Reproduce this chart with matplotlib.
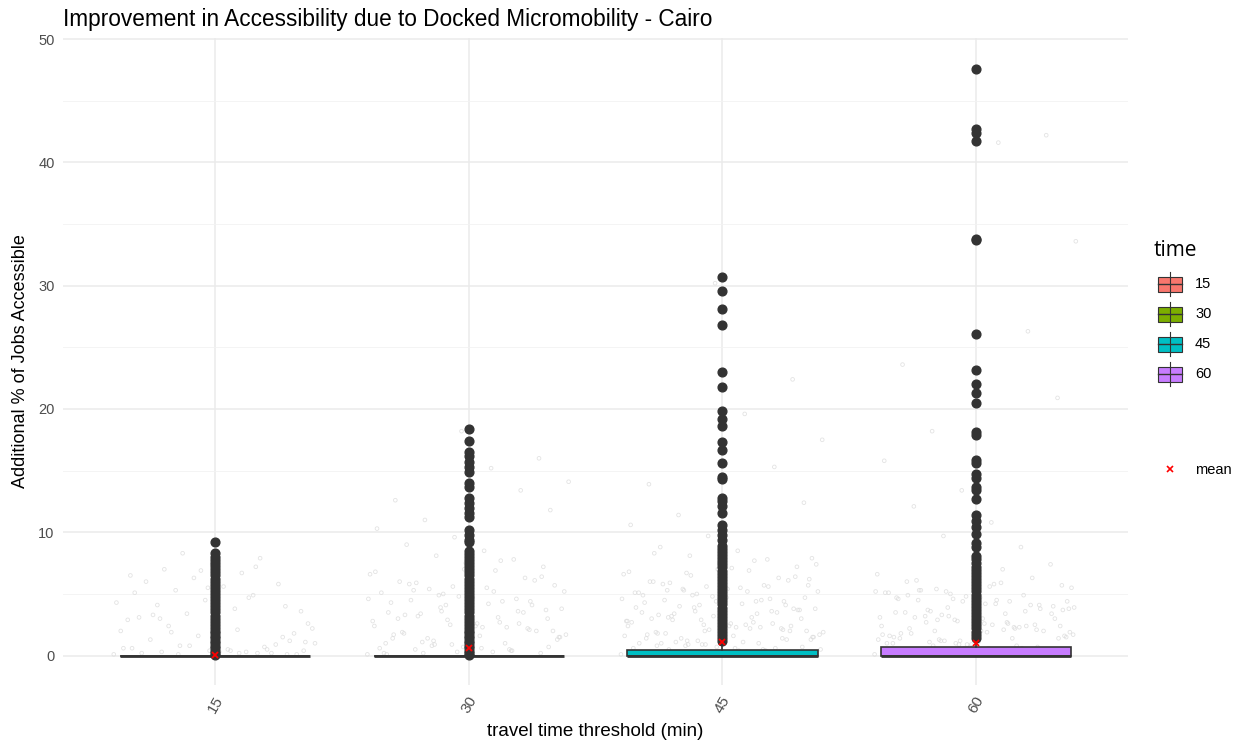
import numpy as np
import matplotlib.pyplot as plt
from matplotlib.patches import Rectangle
from matplotlib.lines import Line2D

plt.rcParams['font.family'] = ['Liberation Sans', 'DejaVu Sans']

times = ['15', '30', '45', '60']
colors = ['#F8766D', '#7CAE00', '#00BFC4', '#C77CFF']

# box statistics
q1 = [0.0, 0.0, 0.0, 0.0]
med = [0.0, 0.0, 0.0, 0.0]
q3 = [0.0, 0.0, 0.42, 0.68]
whis_hi = [0.0, 0.0, 1.0, 1.35]
means = [0.05, 0.65, 1.1, 1.0]

# outliers (dark points)
out15 = [0.05, 0.2, 0.4, 0.6, 0.8, 1.0, 1.2, 1.4, 1.6, 1.8, 2.0, 2.25, 2.5, 2.75, 3.0,
         3.25, 3.5, 3.75, 4.0, 4.25, 4.5, 4.75, 5.0, 5.25, 5.5, 5.75, 6.0, 6.25, 6.5,
         6.75, 7.0, 7.25, 7.5, 7.75, 8.0, 8.3, 9.2]
out30 = [0.05, 0.2, 0.4, 0.6, 0.8, 1.0, 1.2, 1.4, 1.6, 1.8, 2.0, 2.25, 2.5, 2.75, 3.0,
         3.25, 3.5, 3.75, 4.0, 4.25, 4.5, 4.75, 5.0, 5.25, 5.5, 5.75, 6.0, 6.25, 6.5,
         6.75, 7.0, 7.25, 7.5, 7.75, 8.0, 8.25, 8.5, 9.2, 9.4, 9.8, 10.2, 11.2, 11.6,
         12.0, 12.4, 12.8, 13.7, 14.0, 14.9, 15.3, 15.7, 16.2, 16.5, 17.4, 18.4]
out45 = [1.15, 1.4, 1.65, 1.9, 2.15, 2.4, 2.65, 2.9, 3.15, 3.4, 3.65, 3.9, 4.15, 4.4,
         4.65, 4.9, 5.15, 5.4, 5.65, 5.9, 6.15, 6.4, 6.65, 6.9, 7.15, 7.4, 7.65, 7.9,
         8.15, 8.4, 8.65, 8.9, 9.4, 9.8, 10.2, 10.6, 11.6, 12.1, 12.5, 12.8, 14.3, 14.5,
         15.6, 16.7, 17.3, 18.6, 19.2, 19.8, 21.8, 23.0, 26.8, 28.1, 29.6, 30.7]
out60 = [1.45, 1.7, 1.95, 2.2, 2.45, 2.7, 2.95, 3.2, 3.45, 3.7, 3.95, 4.2, 4.45, 4.7,
         4.95, 5.2, 5.45, 5.7, 5.95, 6.2, 6.45, 6.7, 6.95, 7.2, 7.5, 7.8, 8.1, 8.8, 9.1,
         9.9, 10.4, 10.9, 11.4, 12.7, 13.4, 13.7, 14.4, 14.7, 15.6, 15.9, 17.9, 18.1,
         20.5, 21.3, 22.0, 23.2, 26.1, 33.7, 33.8, 41.7, 42.4, 42.7, 47.6]
outliers = [out15, out30, out45, out60]

# faint jittered observations
jit15 = [0.1, 0.2, 0.3, 0.1, 0.4, 0.6, 0.2, 0.8, 1.1, 0.5, 1.3, 0.9, 1.6, 2.0, 0.3, 2.4,
         1.8, 2.7, 3.1, 0.7, 3.4, 2.2, 3.8, 4.1, 1.5, 4.5, 2.9, 4.9, 5.3, 3.6, 5.6, 6.0,
         0.2, 6.3, 4.3, 6.7, 7.0, 1.2, 7.4, 5.1, 7.9, 8.3, 2.6, 0.4, 3.3, 5.8, 6.9, 0.6,
         4.7, 1.9, 0.1, 0.3, 0.2, 0.5, 0.8, 1.0, 2.1, 3.0, 4.0, 5.5, 6.5, 7.2, 0.1, 0.4]
jit30 = [0.1, 0.3, 0.5, 0.2, 0.7, 1.0, 0.4, 1.2, 1.5, 0.6, 1.8, 2.1, 0.9, 2.4, 2.7, 1.1,
         3.0, 3.3, 1.4, 3.6, 3.9, 1.7, 4.2, 4.5, 2.0, 4.8, 5.1, 2.3, 5.4, 5.7, 2.6, 6.0,
         6.3, 2.9, 6.6, 6.9, 3.2, 7.2, 7.5, 3.5, 7.8, 8.1, 3.8, 8.5, 9.0, 4.1, 9.6, 10.3,
         4.4, 11.0, 11.8, 4.7, 12.6, 13.4, 5.0, 14.1, 15.2, 5.3, 16.0, 18.2, 0.2, 0.5,
         0.8, 1.3, 1.6, 1.9, 2.2, 2.5, 2.8, 3.1, 3.4, 3.7, 4.0, 4.3, 4.6, 4.9, 5.2, 5.5,
         5.8, 6.1, 0.3, 0.6, 1.0, 1.4, 2.0, 2.4, 3.0, 3.5, 4.1, 4.6, 5.2, 5.9, 6.4, 7.0,
         0.1, 0.4, 0.9, 1.5, 2.3, 3.3, 4.4, 5.6, 6.8, 7.7, 0.2, 0.7, 1.2, 1.7, 2.6, 3.6]
jit45 = [0.1, 0.3, 0.5, 0.2, 0.7, 1.0, 0.4, 1.2, 1.5, 0.6, 1.8, 2.1, 0.9, 2.4, 2.7, 1.1,
         3.0, 3.3, 1.4, 3.6, 3.9, 1.7, 4.2, 4.5, 2.0, 4.8, 5.1, 2.3, 5.4, 5.7, 2.6, 6.0,
         6.3, 2.9, 6.6, 6.9, 3.2, 7.2, 7.5, 3.5, 7.8, 8.1, 3.8, 8.5, 8.8, 4.1, 9.7, 10.6,
         4.4, 11.4, 12.4, 4.7, 13.9, 15.3, 5.0, 17.5, 19.6, 5.3, 22.4, 30.2, 0.2, 0.5,
         0.8, 1.3, 1.6, 1.9, 2.2, 2.5, 2.8, 3.1, 3.4, 3.7, 4.0, 4.3, 4.6, 4.9, 5.2, 5.5,
         5.8, 6.1, 0.3, 0.6, 1.0, 1.4, 2.0, 2.4, 3.0, 3.5, 4.1, 4.6, 5.2, 5.9, 6.4, 7.0,
         0.1, 0.4, 0.9, 1.5, 2.3, 3.3, 4.4, 5.6, 6.8, 7.7, 0.2, 0.7, 1.2, 1.7, 2.6, 3.6,
         0.5, 1.1, 1.8, 2.4, 3.2, 3.9, 4.5, 5.3, 6.2, 7.1, 8.3, 0.3, 0.9, 1.6, 2.2, 2.9,
         3.7, 4.2, 4.9, 5.6, 6.5, 7.4, 0.4, 1.0, 1.3, 2.1, 2.7, 3.4, 4.0, 4.7, 5.4, 6.0,
         0.6, 1.2, 1.9, 2.5, 3.1, 3.8, 4.4, 5.1, 5.7, 6.7, 7.9, 0.2, 0.8, 1.4, 2.0, 2.8]
jit60 = [0.1, 0.3, 0.5, 0.2, 0.7, 1.0, 0.4, 1.2, 1.5, 0.6, 1.8, 2.1, 0.9, 2.4, 2.7, 1.1,
         3.0, 3.3, 1.4, 3.6, 3.9, 1.7, 4.2, 4.5, 2.0, 4.8, 5.1, 2.3, 5.4, 5.7, 2.6, 6.0,
         6.3, 2.9, 6.6, 7.0, 3.2, 7.4, 8.0, 3.5, 8.8, 9.7, 3.8, 10.8, 12.1, 4.1, 13.4,
         15.8, 4.4, 18.2, 20.9, 4.7, 23.6, 26.3, 5.0, 33.6, 41.6, 5.3, 42.2, 0.2, 0.5,
         0.8, 1.3, 1.6, 1.9, 2.2, 2.5, 2.8, 3.1, 3.4, 3.7, 4.0, 4.3, 4.6, 4.9, 5.2, 5.5,
         5.8, 6.1, 0.3, 0.6, 1.0, 1.4, 2.0, 2.4, 3.0, 3.5, 4.1, 4.6, 5.2, 5.9, 0.1, 0.4,
         0.9, 1.5, 2.3, 3.3, 4.4, 5.6, 0.2, 0.7, 1.2, 1.7, 2.6, 3.6, 0.5, 1.1, 1.8, 2.4,
         3.2, 3.9, 4.5, 5.3, 0.3, 0.9, 1.6, 2.2, 2.9, 3.7, 4.2, 4.9, 0.4, 1.0, 1.3, 2.1,
         2.7, 3.4, 4.0, 4.7, 0.6, 1.2, 1.9, 2.5, 3.1, 3.8, 4.4, 5.1, 0.2, 0.8, 1.4, 2.0]
jitter = [jit15, jit30, jit45, jit60]

pos = np.arange(1, 5)

fig = plt.figure(figsize=(12.41, 7.40), dpi=100)
ax = fig.add_axes([0.0508, 0.0743, 0.8583, 0.8743])

# jitter layer (deterministic horizontal spread)
for i, vals in enumerate(jitter):
    n = len(vals)
    off = ((np.arange(n) * 0.6180339) % 1.0 - 0.5) * 0.8
    ax.scatter(pos[i] + off, vals, s=7, facecolor='none', edgecolor='#dcdcdc',
               linewidth=0.6, alpha=0.8, zorder=2)

stats = []
for i in range(4):
    stats.append(dict(med=med[i], q1=q1[i], q3=q3[i], whislo=q1[i],
                      whishi=whis_hi[i], mean=means[i], fliers=outliers[i]))

bp = ax.bxp(stats, positions=pos, widths=0.75, patch_artist=True, showmeans=True,
            showcaps=False, manage_ticks=False,
            boxprops=dict(edgecolor='#333333', linewidth=1.2),
            medianprops=dict(color='#333333', linewidth=2.0),
            whiskerprops=dict(color='#333333', linewidth=1.2),
            flierprops=dict(marker='o', markerfacecolor='#333333',
                            markeredgecolor='#333333', markersize=6.3),
            meanprops=dict(marker='x', markeredgecolor='red', markersize=5,
                           markeredgewidth=1.3))
for patch, c in zip(bp['boxes'], colors):
    patch.set_facecolor(c)
for k in ['boxes', 'medians', 'whiskers', 'fliers']:
    for a in bp[k]:
        a.set_zorder(3)
for a in bp['means']:
    a.set_zorder(5)

ax.set_xlim(0.4, 4.6)
ax.set_ylim(-2.385, 50.08)
ax.set_xticks(pos)
ax.set_xticklabels(times, rotation=60, color='#4D4D4D', fontsize=11)
ax.set_yticks([0, 10, 20, 30, 40, 50])
ax.set_yticks([5, 15, 25, 35, 45], minor=True)
ax.tick_params(axis='y', labelcolor='#4D4D4D', labelsize=10.5, pad=6)
ax.tick_params(axis='x', pad=6)
ax.tick_params(length=0, which='both')
ax.grid(True, which='major', color='#EBEBEB', linewidth=1.1)
ax.grid(True, which='minor', axis='y', color='#F2F2F2', linewidth=0.6)
ax.set_axisbelow(True)
for s in ax.spines.values():
    s.set_visible(False)

ax.set_title('Improvement in Accessibility due to Docked Micromobility - Cairo',
             loc='left', fontsize=16.3, x=0.0, pad=8.5)
ax.set_xlabel('travel time threshold (min)', fontsize=13.5, labelpad=6)
ax.set_ylabel('Additional % of Jobs Accessible', fontsize=13, labelpad=7)

# legend drawn in pixel space
lg = fig.add_axes([0, 0, 1, 1], facecolor='none')
lg.set_xlim(0, 1241)
lg.set_ylim(740, 0)
lg.axis('off')
lg.text(1154, 251, 'time', fontsize=15, family=['Open Sans', 'DejaVu Sans'],
        va='center', ha='left')
for i, (t, c) in enumerate(zip(times, colors)):
    cy = 284 + i * 30
    lg.add_line(Line2D([1170, 1170], [cy - 12, cy + 12], color='#333333', lw=0.8))
    lg.add_patch(Rectangle((1158, cy - 7.5), 24, 15, facecolor=c,
                           edgecolor='#333333', lw=0.8))
    lg.add_line(Line2D([1158, 1182], [cy, cy], color='#333333', lw=1.0))
    lg.text(1195, cy, t, fontsize=10.5, va='center', ha='left')
lg.plot([1170], [469], marker='x', color='red', markersize=5, markeredgewidth=1.2)
lg.text(1195, 470, 'mean', fontsize=10.5, va='center', ha='left')

fig.savefig('out.png', dpi=100)
